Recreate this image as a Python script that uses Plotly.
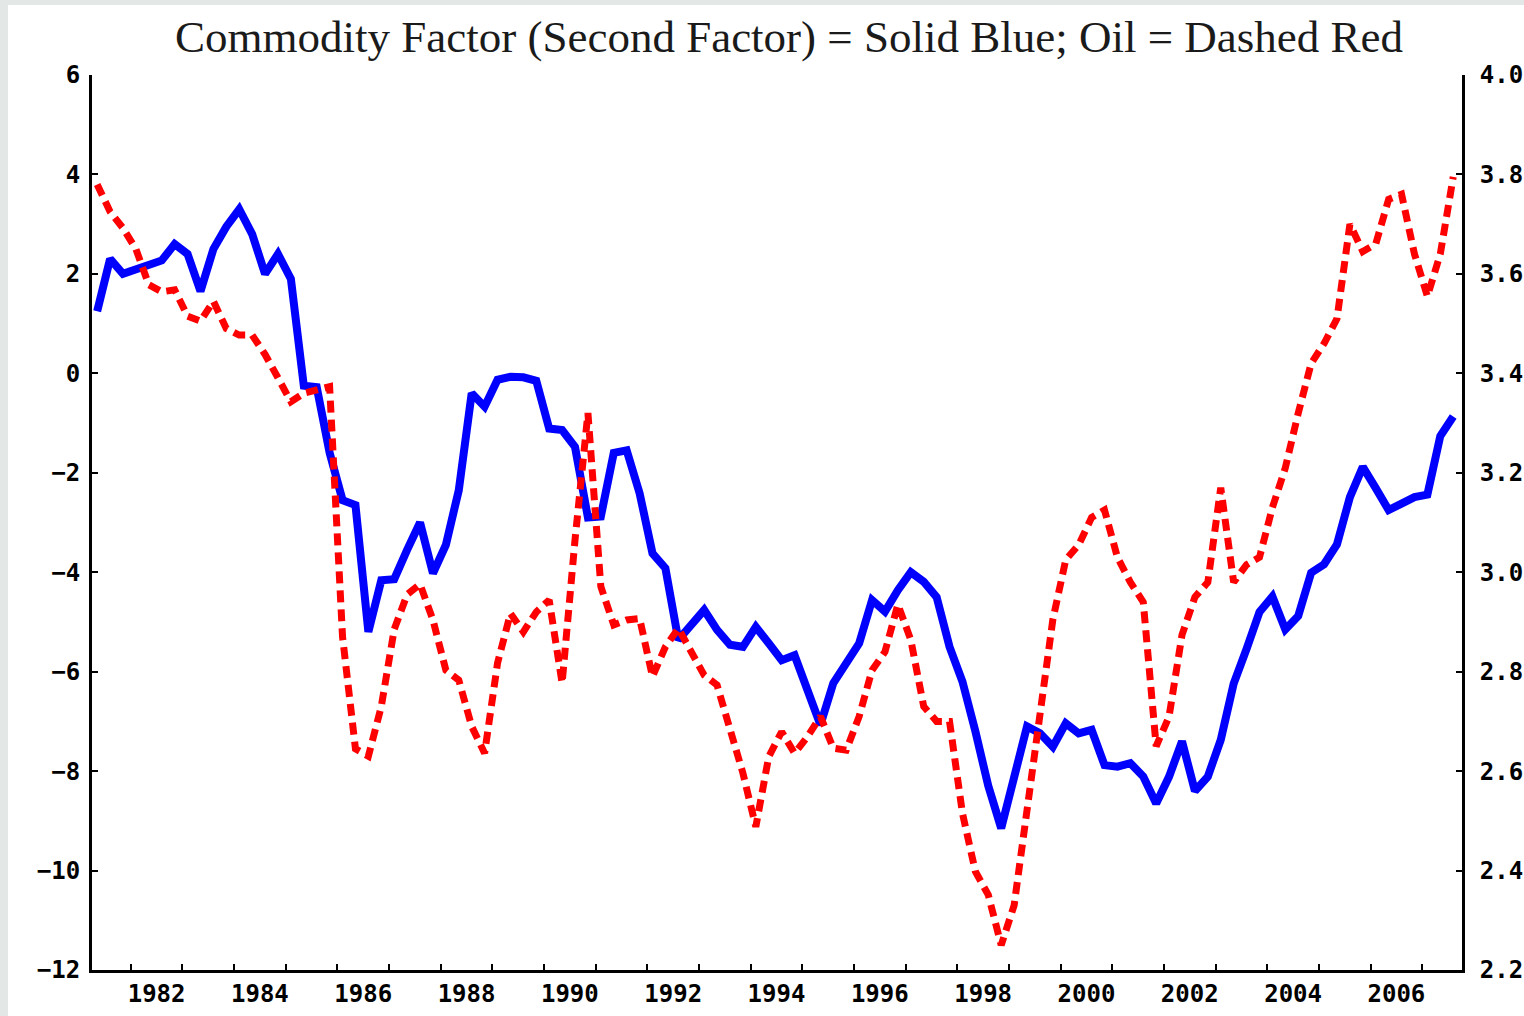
import plotly.graph_objects as go

# quarterly observations, 1981:2 .. 2007:3
start_year = 1981.35
n_obs = 106
dates = [start_year + 0.25 * k for k in range(n_obs)]

# commodity factor (left axis)
commodity_factor = [
    1.25, 2.3, 2.0, 2.1, 2.2, 2.27, 2.6, 2.4, 1.65, 2.5,
    2.95, 3.3, 2.8, 2.0, 2.4, 1.9, -0.25, -0.28, -1.6, -2.55,
    -2.65, -5.2, -4.16, -4.14, -3.55, -3.0, -4.02, -3.45, -2.35, -0.4,
    -0.67, -0.13, -0.07, -0.08, -0.15, -1.11, -1.14, -1.48, -2.9, -2.88,
    -1.6, -1.55, -2.41, -3.62, -3.92, -5.36, -5.06, -4.76, -5.16, -5.46,
    -5.5, -5.1, -5.43, -5.77, -5.67, -6.37, -7.07, -6.23, -5.83, -5.43,
    -4.56, -4.79, -4.36, -4.0, -4.19, -4.5, -5.5, -6.2, -7.2, -8.3,
    -9.15, -8.2, -7.1, -7.24, -7.51, -7.04, -7.24, -7.17, -7.88, -7.91,
    -7.84, -8.11, -8.65, -8.11, -7.4, -8.4, -8.11, -7.37, -6.24, -5.54,
    -4.8, -4.49, -5.15, -4.88, -4.01, -3.84, -3.44, -2.49, -1.88, -2.31,
    -2.75, -2.62, -2.49, -2.44, -1.26, -0.87,
]

# oil (right axis)
oil = [
    3.78, 3.725, 3.692, 3.65, 3.578, 3.564, 3.568, 3.515, 3.505, 3.545,
    3.49, 3.477, 3.477, 3.438, 3.391, 3.343, 3.36, 3.368, 3.373, 2.87,
    2.645, 2.63, 2.73, 2.885, 2.955, 2.976, 2.904, 2.803, 2.783, 2.69,
    2.636, 2.817, 2.917, 2.88, 2.92, 2.944, 2.777, 3.065, 3.32, 2.971,
    2.894, 2.904, 2.907, 2.79, 2.85, 2.887, 2.843, 2.793, 2.773, 2.69,
    2.596, 2.488, 2.629, 2.679, 2.636, 2.669, 2.71, 2.646, 2.642, 2.71,
    2.803, 2.84, 2.935, 2.864, 2.73, 2.7, 2.7, 2.515, 2.398, 2.351,
    2.25, 2.33, 2.53, 2.72, 2.905, 3.025, 3.055, 3.11, 3.125, 3.03,
    2.98, 2.94, 2.65, 2.71, 2.874, 2.95, 2.98, 3.17, 2.98, 3.015,
    3.03, 3.13, 3.21, 3.32, 3.42, 3.46, 3.51, 3.7, 3.645, 3.66,
    3.75, 3.76, 3.64, 3.555, 3.64, 3.795,
]

year_labels = [str(y) for y in range(1982, 2007, 2)]
year_ticks = list(range(1982, 2008))

tick_font = dict(family="DejaVu Sans Mono", size=24, color="black", weight="bold")

fig = go.Figure()

fig.add_trace(go.Scatter(
    x=dates, y=oil, mode="lines", yaxis="y2",
    line=dict(color="#ff0000", width=7, dash="12px,7px"),
    showlegend=False,
))
fig.add_trace(go.Scatter(
    x=dates, y=commodity_factor, mode="lines",
    line=dict(color="#0000ff", width=8),
    showlegend=False,
))

fig.update_layout(
    width=1524, height=1016,
    margin=dict(l=92, r=62, t=75, b=46),
    paper_bgcolor="white", plot_bgcolor="white",
    title=dict(
        text="Commodity Factor (Second Factor) = Solid Blue; Oil = Dashed Red",
        font=dict(family="Liberation Serif", size=45, color="#1a1a1a"),
        xref="container", x=789 / 1524, xanchor="center",
        yref="container", y=1 - 36 / 1016, yanchor="middle",
    ),
    xaxis=dict(
        range=[1981.25, 2007.77],
        tickmode="array",
        tickvals=[int(s) + 0.5 for s in year_labels],
        ticktext=year_labels,
        ticks="", tickfont=tick_font, automargin=False,
        minor=dict(tickmode="array", tickvals=year_ticks, ticks="inside",
                   ticklen=6, tickwidth=1.5, tickcolor="black", showgrid=False),
        showline=True, linecolor="black", linewidth=3,
        showgrid=False, zeroline=False,
    ),
    yaxis=dict(
        range=[-12, 6], tickmode="linear", tick0=-12, dtick=2,
        ticks="inside", ticklen=6, tickwidth=2, tickcolor="black",
        tickfont=tick_font, ticklabelstandoff=4, automargin=False,
        showline=True, linecolor="black", linewidth=3,
        showgrid=False, zeroline=False,
    ),
    yaxis2=dict(
        range=[2.2, 4.0], tickmode="linear", tick0=2.2, dtick=0.2,
        tickformat=".1f", overlaying="y", side="right",
        ticks="inside", ticklen=6, tickwidth=2, tickcolor="black",
        tickfont=tick_font, ticklabelstandoff=10, automargin=False,
        showline=True, linecolor="black", linewidth=3,
        showgrid=False, zeroline=False,
    ),
    shapes=[
        dict(type="rect", xref="paper", yref="paper", layer="below",
             x0=-92 / 1370, x1=-84 / 1370, y0=-46 / 895, y1=970 / 895,
             line=dict(width=0), fillcolor="#e3e8e6"),
        dict(type="rect", xref="paper", yref="paper", layer="below",
             x0=-92 / 1370, x1=1432 / 1370, y0=965 / 895, y1=970 / 895,
             line=dict(width=0), fillcolor="#e3e8e6"),
    ],
)

# drop the default page margin so the figure sits at the window corner
fig.write_html("out.html", config={"displayModeBar": False},
               post_script="document.body.style.margin = '0';")
